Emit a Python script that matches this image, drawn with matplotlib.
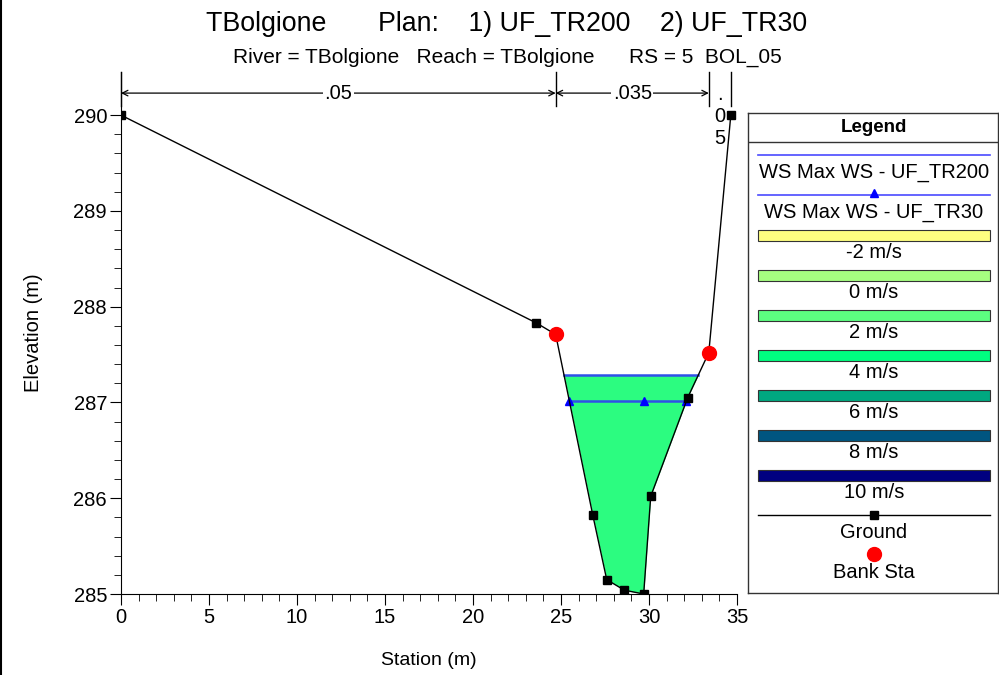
import numpy as np
import matplotlib
matplotlib.use("Agg")
import matplotlib.pyplot as plt
from matplotlib.lines import Line2D
from matplotlib.patches import Rectangle

plt.rcParams['font.family'] = ['Liberation Sans', 'DejaVu Sans']

# ground profile (station m, elevation m)
ground_sta = [0.0, 23.6, 24.7, 26.8, 27.6, 28.6, 29.7, 30.1, 32.2, 33.4, 34.65]
ground_elev = [290.0, 287.83, 287.71, 285.83, 285.15, 285.04, 285.0, 286.02, 287.05, 287.52, 290.0]

# bank stations
bank_sta = [24.7, 33.4]
bank_elev = [287.71, 287.52]

# water surfaces
ws_tr200 = 287.29
ws_tr30 = 287.01
ws_tr30_mid = 29.7

# manning n values and their breakpoints
n_values = [".05", ".035", ".05"]
n_breaks = [0.0, 24.7, 33.4, 34.65]

# legend velocity classes
vel_labels = ["-2 m/s", "0 m/s", "2 m/s", "4 m/s", "6 m/s", "8 m/s", "10 m/s"]
vel_colors = ["#ffff80", "#a6ff80", "#5cff80", "#00ff80", "#00a880", "#005580", "#000080"]

gx = np.array(ground_sta)
gy = np.array(ground_elev)
imin = int(np.argmin(gy))


def ws_extent(ws):
    # where the water surface meets the ground on each side of the thalweg
    left = np.interp(ws, gy[:imin + 1][::-1], gx[:imin + 1][::-1])
    right = np.interp(ws, gy[imin:], gx[imin:])
    return left, right


fig = plt.figure(figsize=(9.99, 6.75), dpi=100)
ax = fig.add_axes([0.1211, 0.12, 0.6166, 0.7733])

# flow area filled up to the TR200 surface
l200, r200 = ws_extent(ws_tr200)
xs = np.concatenate([[l200], gx[(gx > l200) & (gx < r200)], [r200]])
ys = np.interp(xs, gx, gy)
ax.fill_between(xs, ys, ws_tr200, color="#2cfc80", lw=0, zorder=1)

ax.plot([l200, r200], [ws_tr200, ws_tr200], color="#2f50e8", lw=1.8, zorder=3)
l30, r30 = ws_extent(ws_tr30)
ax.plot([l30, ws_tr30_mid, r30], [ws_tr30] * 3, color="#2f50e8", lw=1.8,
        marker="^", ms=6, mfc="blue", mec="blue", zorder=4)

ax.plot(ground_sta, ground_elev, color="black", lw=1, marker="s", ms=6,
        mfc="black", mec="black", zorder=5)
ax.plot(bank_sta, bank_elev, ls="none", marker="o", ms=10, mfc="red",
        mec="red", zorder=6)

ax.set_xlim(0, 35)
ax.set_ylim(285, 290.45)
ax.set_xticks(np.arange(0, 36, 5))
ax.set_xticks(np.arange(0, 36, 1), minor=True)
ax.set_yticks(np.arange(285, 291, 1))
ax.set_yticks(np.arange(285, 290.01, 0.2), minor=True)
ax.spines["top"].set_visible(False)
ax.spines["right"].set_visible(False)
ax.tick_params(which="major", length=8, labelsize=14.5, pad=2)
ax.tick_params(which="minor", length=5)
ax.set_xlabel("Station (m)", fontsize=14, labelpad=18)
ax.set_ylabel("Elevation (m)", fontsize=14.5, labelpad=22)

# n value brackets
y_arr = 290.23
for b in n_breaks:
    ax.plot([b, b], [290.1, 290.45], color="black", lw=1, clip_on=False, zorder=2)
for i, n in enumerate(n_values):
    a, b = n_breaks[i], n_breaks[i + 1]
    if b - a > 3:
        ax.annotate("", xy=(a, y_arr), xytext=(b, y_arr),
                    arrowprops=dict(arrowstyle="<->", lw=0.9, color="black",
                                    shrinkA=0, shrinkB=0), annotation_clip=False)
        ax.text((a + b) / 2, y_arr, n, ha="center", va="center", fontsize=14.5,
                bbox=dict(fc="white", ec="none", pad=1))
    else:
        ax.text((a + b) / 2, y_arr + 0.08, "\n".join(n), ha="center", va="top",
                fontsize=14.5, linespacing=1.2)

fig.text(0.507, 0.964, "TBolgione       Plan:    1) UF_TR200    2) UF_TR30",
         ha="center", va="center", fontsize=19.3)
fig.text(0.508, 0.915, "River = TBolgione   Reach = TBolgione      RS = 5  BOL_05",
         ha="center", va="center", fontsize=15)

# left border line
fig.add_artist(Line2D([0.0015, 0.0015], [0, 1], color="black", lw=1.5))

# legend panel drawn in pixel units
lg = fig.add_axes([748 / 999, 1 - 593 / 675, 250 / 999, 480 / 675])
lg.set_xlim(748, 998)
lg.set_ylim(593, 113)
lg.set_xticks([])
lg.set_yticks([])
for s in lg.spines.values():
    s.set_color("#333333")
    s.set_linewidth(1)
lg.axhline(142, color="#333333", lw=1)
xc = 874
fs = 14.5
lg.text(xc, 128, "Legend", ha="center", va="center", fontsize=13.5, fontweight="bold")
lg.plot([758, 990], [155, 155], color="#4a4aff", lw=1.2)
lg.text(xc, 172, "WS Max WS - UF_TR200", ha="center", va="center", fontsize=fs)
lg.plot([758, 990], [195, 195], color="#4a4aff", lw=1.2)
lg.plot([xc], [193], marker="^", ms=6, color="blue")
lg.text(xc, 213, "WS Max WS - UF_TR30", ha="center", va="center", fontsize=fs)
for i, (lab, col) in enumerate(zip(vel_labels, vel_colors)):
    y0 = 230 + 40 * i
    lg.add_patch(Rectangle((758, y0), 232, 11, fc=col, ec="#333333", lw=0.8))
    lg.text(xc, y0 + 23, lab, ha="center", va="center", fontsize=fs)
lg.plot([758, 990], [515, 515], color="black", lw=1)
lg.plot([xc], [515], marker="s", ms=6, color="black")
lg.text(xc, 533, "Ground", ha="center", va="center", fontsize=fs)
lg.plot([xc], [554], marker="o", ms=10, color="red")
lg.text(xc, 573, "Bank Sta", ha="center", va="center", fontsize=fs)

fig.savefig("out.png", dpi=100)
